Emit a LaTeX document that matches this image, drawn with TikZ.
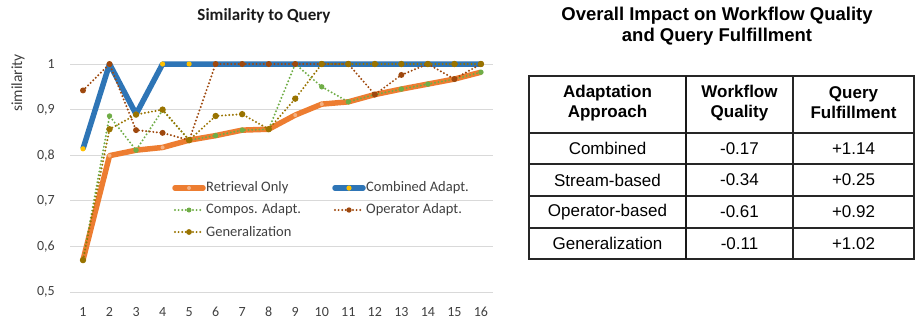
\documentclass[tikz,border=0pt]{standalone}
\usepackage{fontspec}
\usetikzlibrary{calc}
\setmainfont{Carlito}
\newfontfamily\arialf{Liberation Sans}
\definecolor{ret}{HTML}{ED7D31}
\definecolor{retm}{HTML}{F4B183}
\definecolor{comb}{HTML}{2E75B6}
\definecolor{combm}{HTML}{FFC000}
\definecolor{comp}{HTML}{70AD47}
\definecolor{oper}{HTML}{9E480E}
\definecolor{genc}{HTML}{997300}
\definecolor{gridc}{HTML}{D9D9D9}
\definecolor{tickc}{HTML}{404040}
\definecolor{titc}{HTML}{1A1A1A}
\tikzset{
  thickser/.style={line width=5.5pt, line join=round},
  dotser/.style={line width=2.2pt, line cap=round, line join=round, dash pattern=on 0pt off 3.6pt},
  gridline/.style={gridc, line width=0.8pt},
  ticklab/.style={text=tickc, font=\fontsize{14}{16}\selectfont, inner sep=0pt},
  leglab/.style={text=tickc, font=\fontsize{14.5}{16}\selectfont, anchor=west, inner sep=0pt},
  tabtxt/.style={font=\arialf\fontsize{17}{20}\selectfont, align=center, inner sep=0pt},
  tabhead/.style={font=\arialf\bfseries\fontsize{17}{20}\selectfont, align=center, inner sep=0pt},
  tabrule/.style={line width=1.3pt, black!85},
  tabthick/.style={line width=2.6pt, black!90},
}
\begin{document}
\begin{tikzpicture}[x=1pt,y=-1pt]
\useasboundingbox (0,0) rectangle (915,325);
% ---------- chart ----------
\node[font=\bfseries\fontsize{17}{20}\selectfont, text=titc] (ctitle) at (264,16) {Similarity to Query};
\node[rotate=90, text=tickc, font=\fontsize{15.5}{17}\selectfont, inner sep=0pt] (ylab) at (18,83) {similarity};
\foreach \v/\lab [count=\k] in {1/1, 0.9/{0,9}, 0.8/{0,8}, 0.7/{0,7}, 0.6/{0,6}, 0.5/{0,5}} {
  \pgfmathsetmacro\yy{64+456*(1-\v)}
  \draw[gridline] (70,\yy) -- (493,\yy);
  \node[ticklab, anchor=east] (yt\k) at (55,\yy) {\lab};
}
\foreach \i in {1,...,16} {
  \pgfmathsetmacro\xx{83+26.53*(\i-1)}
  \node[ticklab] (xt\i) at (\xx,312) {\i};
}
\begin{scope}[x=26.53pt, y=456pt, shift={(56.47pt,-520pt)}]
  % Retrieval only
  \draw[thickser, ret] plot coordinates {(1,0.57) (2,0.799) (3,0.811) (4,0.817) (5,0.833) (6,0.843) (7,0.855) (8,0.857) (9,0.888) (10,0.912) (11,0.917) (12,0.933) (13,0.945) (14,0.956) (15,0.967) (16,0.982)};
  \foreach \i/\v in {1/0.57,2/0.799,3/0.811,4/0.817,5/0.833,6/0.843,7/0.855,8/0.857,9/0.888,10/0.912,11/0.917,12/0.933,13/0.945,14/0.956,15/0.967,16/0.982}
    \fill[retm] (\i,\v) circle (2pt);
  % Combined
  \draw[thickser, comb] plot coordinates {(1,0.814) (2,1) (3,0.89) (4,1) (5,1) (6,1) (7,1) (8,1) (9,1) (10,1) (11,1) (12,1) (13,1) (14,1) (15,1) (16,1)};
  \foreach \i/\v in {1/0.814,2/1,3/0.89,4/1,5/1,6/1,7/1,8/1,9/1,10/1,11/1,12/1,13/1,14/1,15/1,16/1}
    \fill[combm] (\i,\v) circle (2.6pt);
  % Compositional
  \draw[dotser, comp] plot coordinates {(1,0.57) (2,0.886) (3,0.811) (4,0.899) (5,0.833) (6,0.843) (7,0.855) (8,0.857) (9,1) (10,0.95) (11,0.917) (12,0.933) (13,0.945) (14,0.956) (15,0.967) (16,0.982)};
  \foreach \i/\v in {1/0.57,2/0.886,3/0.811,4/0.899,5/0.833,6/0.843,7/0.855,8/0.857,9/1,10/0.95,11/0.917,12/0.933,13/0.945,14/0.956,15/0.967,16/0.982}
    \fill[comp] (\i,\v) circle (2.7pt);
  % Operator
  \draw[dotser, oper] plot coordinates {(1,0.942) (2,1) (3,0.855) (4,0.849) (5,0.833) (6,1) (7,1) (8,1) (9,1) (10,1) (11,1) (12,0.933) (13,0.976) (14,1) (15,0.967) (16,1)};
  \foreach \i/\v in {1/0.942,2/1,3/0.855,4/0.849,5/0.833,6/1,7/1,8/1,9/1,10/1,11/1,12/0.933,13/0.976,14/1,15/0.967,16/1}
    \fill[oper] (\i,\v) circle (3pt);
  % Generalization
  \draw[dotser, genc] plot coordinates {(1,0.57) (2,0.857) (3,0.889) (4,0.9) (5,0.833) (6,0.886) (7,0.89) (8,0.857) (9,0.924) (10,1) (11,1) (12,1) (13,1) (14,1) (15,1) (16,1)};
  \foreach \i/\v in {1/0.57,2/0.857,3/0.889,4/0.9,5/0.833,6/0.886,7/0.89,8/0.857,9/0.924,10/1,11/1,12/1,13/1,14/1,15/1,16/1}
    \fill[genc] (\i,\v) circle (3.2pt);
\end{scope}
% legend
\coordinate (l1a) at (175,188); \coordinate (l1b) at (203,188);
\draw[thickser, ret, line cap=round] (l1a) -- (l1b);
\fill[retm] ($(l1a)!0.5!(l1b)$) circle (2pt);
\node[leglab] (lg1) at (206,188) {Retrieval Only};
\coordinate (l2a) at (335,188); \coordinate (l2b) at (363,188);
\draw[thickser, comb, line cap=round] (l2a) -- (l2b);
\fill[combm] ($(l2a)!0.5!(l2b)$) circle (2.6pt);
\node[leglab] (lg2) at (366,188) {Combined Adapt.};
\coordinate (l3a) at (175,210); \coordinate (l3b) at (203,210);
\draw[dotser, comp] (l3a) -- (l3b);
\fill[comp] ($(l3a)!0.5!(l3b)$) circle (2.5pt);
\node[leglab] (lg3) at (206,210) {Compos. Adapt.};
\coordinate (l4a) at (335,210); \coordinate (l4b) at (363,210);
\draw[dotser, oper] (l4a) -- (l4b);
\fill[oper] ($(l4a)!0.5!(l4b)$) circle (2.7pt);
\node[leglab] (lg4) at (366,210) {Operator Adapt.};
\coordinate (l5a) at (175,232); \coordinate (l5b) at (203,232);
\draw[dotser, genc] (l5a) -- (l5b);
\fill[genc] ($(l5a)!0.5!(l5b)$) circle (2.9pt);
\node[leglab] (lg5) at (206,232) {Generalization};
% ---------- table ----------
\node[font=\arialf\bfseries\fontsize{18.5}{21}\selectfont, align=center, inner sep=0pt] (ttitle) at (717,26) {Overall Impact on Workflow Quality\\and Query Fulfillment};
\draw[tabrule] (529,76) rectangle (914,259);
\foreach \y in {164,196,228} \draw[tabrule] (529,\y) -- (914,\y);
\draw[tabrule, line width=2pt] (529,133) -- (914,133);
\draw[tabthick] (686,76) -- (686,259);
\draw[tabrule] (793,76) -- (793,259);
\node[tabhead] (h1) at (607.5,103) {Adaptation\\Approach};
\node[tabhead] (h2) at (739.5,103) {Workflow\\Quality};
\node[tabhead] (h3) at (853.5,103) {Query\\Fulfillment};
\foreach \y/\a/\b/\c [count=\k] in {148.5/Combined/-0.17/+1.14, 180/Stream-based/-0.34/+0.25, 212/Operator-based/-0.61/+0.92, 243.5/Generalization/-0.11/+1.02} {
  \node[tabtxt] (r\k a) at (607.5,\y) {\a};
  \node[tabtxt] (r\k b) at (739.5,\y) {\b};
  \node[tabtxt] (r\k c) at (853.5,\y) {\c};
}
\end{tikzpicture}
\end{document}
